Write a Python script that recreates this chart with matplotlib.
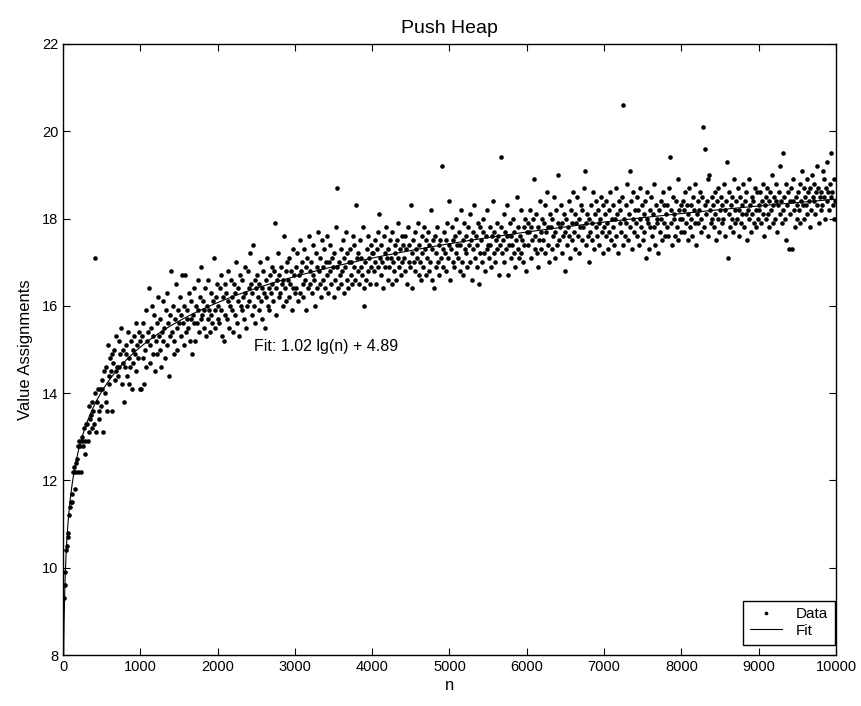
import numpy as np
import matplotlib.pyplot as plt

plt.rcParams['font.family'] = ['Liberation Sans', 'DejaVu Sans']

# n runs 10, 20, ..., 10000 ; one list of 100 values per 1000 of n
n = np.arange(10, 10001, 10)

seg0 = [9.3, 9.6, 9.9, 10.4, 10.5, 10.7, 10.8, 11.2, 11.4, 11.5,
        11.5, 11.7, 12.2, 12.3, 11.8, 12.2, 12.4, 12.5, 12.2, 12.8,
        12.9, 12.8, 12.2, 12.9, 13.0, 12.8, 13.2, 12.6, 12.9, 13.3,
        13.3, 12.9, 13.1, 13.7, 13.4, 13.5, 13.8, 13.2, 13.6, 13.3,
        17.1, 14.0, 13.1, 13.8, 14.1, 13.6, 13.4, 14.1, 13.7, 14.3,
        14.1, 13.1, 14.5, 14.0, 13.8, 14.6, 13.6, 15.1, 14.4, 14.2,
        14.8, 14.5, 13.6, 14.9, 14.7, 15.0, 14.3, 14.5, 15.3, 14.6,
        14.4, 15.2, 14.6, 14.9, 15.5, 14.2, 14.7, 15.0, 13.8, 14.6,
        14.9, 15.1, 14.4, 15.4, 14.2, 14.8, 14.6, 15.2, 14.1, 15.0,
        14.7, 15.3, 14.9, 15.6, 14.5, 15.1, 14.8, 15.4, 14.1, 15.2]
seg1 = [14.1, 15.3, 14.8, 15.6, 14.2, 15.0, 15.9, 14.6, 15.2, 15.4,
        16.4, 15.1, 14.7, 15.5, 16.0, 14.9, 15.3, 15.8, 14.5, 15.2,
        15.6, 14.9, 16.2, 15.3, 15.0, 15.7, 14.6, 15.4, 16.1, 15.2,
        15.5, 14.8, 15.9, 16.3, 15.1, 15.6, 14.4, 15.8, 15.3, 16.8,
        15.4, 16.0, 15.2, 14.9, 15.7, 16.5, 15.5, 15.0, 15.9, 15.6,
        16.2, 15.3, 15.8, 16.7, 15.6, 15.1, 16.0, 16.7, 15.4, 15.7,
        15.9, 15.5, 16.3, 15.2, 16.1, 15.7, 14.9, 15.8, 16.4, 15.6,
        15.2, 16.0, 15.6, 16.6, 15.9, 15.4, 16.2, 15.7, 16.9, 15.8,
        16.1, 15.5, 15.9, 16.4, 15.3, 16.0, 15.7, 16.6, 15.9, 15.4,
        15.8, 16.3, 15.6, 16.1, 17.1, 15.9, 15.5, 16.2, 16.5, 15.7]
seg2 = [16.0, 15.6, 16.4, 15.9, 16.7, 15.3, 16.2, 15.2, 16.5, 15.8,
        16.3, 15.7, 16.1, 16.8, 15.5, 16.0, 16.6, 15.9, 16.2, 15.4,
        16.5, 15.8, 16.3, 17.0, 15.6, 16.1, 16.4, 15.3, 16.7, 16.0,
        15.9, 16.6, 16.2, 15.7, 16.9, 16.3, 15.5, 16.0, 16.8, 16.4,
        16.1, 17.2, 16.5, 15.8, 16.3, 17.4, 16.0, 16.6, 15.6, 16.4,
        16.7, 16.2, 15.9, 16.5, 17.0, 16.1, 16.4, 15.7, 16.8, 16.3,
        15.5, 16.6, 16.2, 17.1, 16.0, 16.4, 15.9, 16.7, 16.3, 16.9,
        16.5, 16.1, 16.8, 17.9, 16.4, 15.8, 16.6, 17.2, 16.2, 16.7,
        16.3, 16.9, 16.5, 16.0, 16.6, 17.6, 16.4, 16.8, 16.1, 17.0,
        16.6, 16.2, 17.1, 16.5, 16.8, 15.9, 16.4, 17.3, 16.7, 16.3]
seg3 = [16.9, 16.4, 17.2, 16.1, 16.7, 17.5, 16.3, 16.8, 17.0, 16.5,
        16.2, 17.3, 16.6, 16.9, 15.9, 17.1, 16.4, 17.6, 16.8, 16.5,
        17.0, 16.3, 16.7, 17.4, 16.6, 16.0, 17.2, 16.9, 16.4, 17.7,
        16.8, 17.1, 16.5, 16.2, 17.5, 16.9, 16.6, 17.3, 16.4, 17.0,
        16.7, 17.6, 16.3, 17.0, 16.8, 17.4, 16.5, 17.1, 16.9, 16.2,
        17.2, 16.6, 17.8, 16.9, 18.7, 16.4, 17.0, 16.7, 17.3, 16.5,
        16.8, 17.5, 16.3, 17.1, 16.9, 17.7, 16.6, 17.2, 16.4, 17.0,
        17.3, 16.7, 17.0, 16.5, 17.6, 16.9, 17.4, 16.6, 18.3, 17.1,
        16.8, 17.2, 16.5, 17.5, 16.9, 17.1, 16.7, 17.8, 16.4, 16.0,
        17.0, 16.6, 17.3, 16.8, 17.6, 17.1, 16.5, 17.4, 16.9, 17.2]
seg4 = [17.2, 16.8, 17.5, 17.0, 16.5, 17.3, 16.9, 17.7, 18.1, 17.1,
        16.7, 17.4, 17.0, 16.4, 17.6, 17.2, 16.9, 17.8, 17.1, 16.6,
        17.3, 16.9, 17.5, 17.1, 16.5, 17.7, 17.0, 16.8, 17.4, 17.2,
        16.6, 17.5, 17.1, 17.9, 16.9, 17.3, 16.7, 17.6, 17.0, 17.4,
        17.1, 16.8, 17.6, 17.3, 16.5, 17.8, 17.0, 17.4, 16.9, 18.3,
        17.2, 16.4, 17.5, 17.0, 17.7, 16.8, 17.3, 17.1, 17.9, 16.7,
        17.4, 17.0, 16.6, 17.6, 17.2, 16.9, 17.8, 17.3, 16.7, 17.5,
        17.1, 17.7, 16.8, 17.4, 17.0, 18.2, 17.3, 16.6, 17.5, 16.4,
        17.6, 17.2, 16.9, 17.8, 17.0, 17.4, 16.7, 17.5, 17.1, 19.2,
        17.3, 16.9, 17.7, 17.2, 17.5, 16.8, 17.9, 17.1, 18.4, 17.4]
seg5 = [16.6, 17.3, 17.8, 17.0, 17.5, 16.9, 17.6, 17.2, 18.0, 17.4,
        17.1, 17.7, 16.8, 17.4, 18.2, 17.0, 17.5, 16.7, 17.9, 17.3,
        17.6, 17.2, 16.9, 17.8, 17.4, 18.1, 17.0, 17.5, 16.6, 17.7,
        17.3, 18.3, 17.1, 17.6, 16.9, 17.4, 17.9, 16.5, 17.2, 17.8,
        17.5, 17.0, 17.7, 18.0, 17.2, 16.8, 17.6, 17.3, 18.2, 17.4,
        17.1, 17.8, 17.4, 16.9, 17.6, 18.4, 17.2, 17.7, 17.0, 17.5,
        17.9, 17.3, 17.6, 16.7, 17.4, 17.8, 19.4, 17.2, 17.5, 18.1,
        17.0, 17.7, 17.3, 17.6, 18.3, 16.7, 17.4, 17.9, 17.1, 17.6,
        17.4, 18.0, 17.2, 17.7, 16.9, 17.5, 18.5, 17.3, 17.8, 17.1,
        17.6, 17.2, 18.2, 17.5, 17.0, 17.8, 17.4, 18.0, 16.8, 17.7]
seg6 = [17.9, 17.4, 17.7, 18.2, 17.1, 17.8, 17.5, 18.0, 18.9, 17.3,
        17.6, 18.1, 17.2, 17.8, 16.9, 17.5, 18.4, 17.7, 17.3, 18.0,
        17.5, 17.9, 18.3, 17.2, 17.7, 18.6, 17.4, 17.8, 17.0, 18.1,
        17.8, 17.3, 18.0, 17.6, 18.5, 17.1, 17.7, 18.2, 17.4, 17.9,
        19.0, 17.5, 17.8, 18.3, 17.2, 17.9, 17.6, 18.1, 16.8, 17.7,
        18.0, 17.4, 17.8, 18.4, 17.6, 17.1, 18.2, 17.9, 17.5, 18.6,
        17.7, 18.1, 17.3, 17.9, 18.5, 17.6, 18.0, 17.2, 17.8, 18.3,
        17.5, 18.2, 17.8, 18.7, 19.1, 17.4, 17.9, 18.1, 17.6, 17.0,
        18.0, 17.7, 18.3, 17.5, 17.9, 18.6, 17.3, 18.1, 17.8, 18.4,
        17.6, 18.2, 17.9, 17.4, 18.0, 18.5, 17.7, 17.2, 18.3, 17.8]
seg7 = [18.1, 17.6, 18.4, 17.9, 17.3, 18.2, 17.7, 18.6, 17.5, 18.0,
        17.8, 18.3, 17.4, 18.0, 18.7, 17.6, 18.1, 17.2, 18.4, 17.9,
        18.2, 17.7, 18.5, 17.4, 20.6, 18.0, 17.6, 18.3, 17.9, 18.8,
        17.5, 18.1, 19.1, 17.8, 18.4, 17.3, 18.0, 18.6, 17.7, 18.2,
        17.9, 18.5, 17.6, 18.2, 17.4, 18.0, 18.7, 17.8, 18.3, 17.5,
        18.1, 17.7, 18.4, 17.1, 18.0, 18.6, 17.9, 17.3, 18.2, 17.8,
        18.5, 17.6, 18.1, 17.8, 18.8, 17.4, 18.3, 17.9, 18.0, 17.2,
        18.2, 17.7, 18.4, 18.0, 17.5, 18.6, 17.9, 18.3, 17.6, 18.1,
        17.8, 18.3, 17.6, 18.7, 19.4, 17.9, 18.2, 17.4, 18.5, 18.0,
        18.1, 17.6, 18.4, 17.8, 18.9, 17.5, 18.2, 18.0, 17.7, 18.3]
seg8 = [18.0, 18.4, 17.7, 18.2, 18.6, 17.9, 18.3, 17.5, 18.1, 18.7,
        17.8, 18.3, 18.0, 17.6, 18.5, 18.2, 17.9, 18.8, 17.4, 18.1,
        18.4, 17.9, 18.2, 18.6, 17.7, 18.0, 18.5, 20.1, 17.8, 18.3,
        19.6, 18.1, 18.4, 17.6, 18.9, 19.0, 18.2, 17.9, 18.5, 18.0,
        18.3, 17.8, 18.6, 18.1, 17.5, 18.4, 18.0, 18.7, 17.7, 18.2,
        18.5, 17.9, 18.3, 18.0, 18.8, 17.6, 18.2, 18.4, 19.3, 17.1,
        18.1, 18.6, 17.8, 18.3, 18.0, 18.5, 17.7, 18.9, 18.2, 17.9,
        18.4, 18.0, 18.7, 17.6, 18.2, 18.5, 17.9, 18.3, 18.1, 18.8,
        17.8, 18.4, 18.1, 18.6, 17.5, 18.2, 18.9, 18.0, 18.3, 17.7,
        18.5, 18.1, 18.4, 17.9, 18.7, 18.2, 17.8, 18.6, 18.0, 18.3]
seg9 = [18.2, 18.6, 17.9, 18.4, 18.1, 18.8, 17.6, 18.3, 18.5, 18.0,
        18.7, 18.1, 18.4, 17.8, 18.6, 18.2, 19.0, 17.9, 18.3, 18.5,
        18.0, 18.4, 18.8, 17.7, 18.3, 18.6, 18.1, 19.2, 18.4, 17.9,
        19.5, 18.2, 18.5, 18.0, 18.8, 17.5, 18.3, 18.6, 17.3, 18.4,
        18.1, 18.7, 17.3, 18.4, 18.9, 18.2, 17.8, 18.5, 18.3, 18.0,
        18.6, 18.2, 18.8, 17.9, 18.4, 19.1, 18.3, 18.0, 18.7, 18.5,
        18.3, 18.9, 18.1, 18.6, 18.4, 17.8, 18.7, 18.2, 19.0, 18.5,
        18.8, 18.4, 18.1, 18.6, 19.2, 18.3, 18.7, 17.9, 18.5, 18.2,
        18.6, 18.3, 19.1, 18.5, 18.9, 18.0, 18.7, 18.4, 19.3, 18.6,
        18.2, 18.8, 18.5, 19.5, 18.6, 18.3, 18.0, 18.9, 18.4, 18.0]

values = np.concatenate([seg0, seg1, seg2, seg3, seg4, seg5, seg6, seg7, seg8, seg9])

# fit from the label: a lg(n) + b
fit_a = 1.02
fit_b = 4.89
n_fit = np.arange(1, 10001)
fit = fit_a * np.log2(n_fit) + fit_b

fig = plt.figure(figsize=(8.62, 7.06), dpi=100)
ax = fig.add_axes([0.0731, 0.0722, 0.8967, 0.8655])

ax.plot(n, values, linestyle='none', marker='o', markersize=3.3, markeredgewidth=0,
        color='black', label='Data')
ax.plot(n_fit, fit, color='black', linewidth=0.8, label='Fit')

ax.text(2470, 15.08, 'Fit: 1.02 lg(n) + 4.89', ha='left', va='center', fontsize=11.5)

ax.set_xlim(0, 10000)
ax.set_ylim(8, 22)
ax.set_xticks(np.arange(0, 10001, 1000))
ax.set_yticks(np.arange(8, 23, 2))
ax.tick_params(direction='in', top=True, right=True, length=5, width=0.8, labelsize=10.5)
for s in ax.spines.values():
    s.set_linewidth(1.0)

ax.set_title('Push Heap', fontsize=14, pad=8)
ax.set_xlabel('n', fontsize=12, labelpad=3)
ax.set_ylabel('Value Assignments', fontsize=12, labelpad=6)

leg = ax.legend(loc='lower right', bbox_to_anchor=(0.9985, 0.017), borderaxespad=0,
                fontsize=11, fancybox=False, edgecolor='black', framealpha=1,
                handlelength=2.1, handletextpad=0.9, borderpad=0.45,
                labelspacing=0.15, markerscale=0.8)
leg.get_frame().set_linewidth(1.0)

fig.savefig('out.png', dpi=100)
